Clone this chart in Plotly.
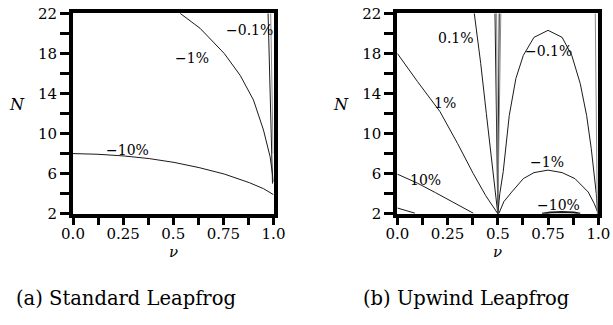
import plotly.graph_objects as go

# ---------------- data ----------------
# Panel (a) Standard Leapfrog : contour lines of phase error
a_m10_nu = [0.0, 0.125, 0.255, 0.38, 0.504, 0.629, 0.754, 0.879, 0.95, 1.0]
a_m10_N = [8.0, 7.93, 7.76, 7.5, 7.12, 6.6, 5.96, 5.1, 4.5, 3.9]

a_m1_nu = [0.534, 0.634, 0.754, 0.834, 0.9, 0.95, 0.983, 1.0]
a_m1_N = [22.0, 20.5, 18.0, 15.8, 13.35, 10.35, 7.7, 5.2]

a_m01a_nu = [0.973, 0.985, 0.995]
a_m01a_N = [22.0, 14.0, 5.0]
a_m01b_nu = [0.986, 0.993, 0.998]
a_m01b_N = [22.0, 15.0, 8.0]

# Panel (b) Upwind Leapfrog
b_10low_nu = [0.0, 0.088]
b_10low_N = [2.57, 2.05]

b_10_nu = [0.0, 0.1, 0.19, 0.28, 0.378]
b_10_N = [5.95, 5.05, 4.1, 3.1, 2.05]

b_1_nu = [0.0, 0.1, 0.212, 0.3, 0.378, 0.44, 0.5]
b_1_N = [18.0, 15.2, 12.2, 9.0, 6.0, 3.8, 2.0]

b_01_nu = [0.383, 0.415, 0.443, 0.47, 0.5]
b_01_N = [22.0, 17.0, 12.0, 7.0, 2.0]

b_mid_top_nu = [0.486, 0.494, 0.507, 0.515]
b_mid_bot_nu = 0.5

b_m01_nu = [0.5, 0.51, 0.527, 0.54, 0.557, 0.59, 0.627, 0.68, 0.75,
            0.82, 0.868, 0.91, 0.942, 0.965, 0.979, 0.99, 0.997]
b_m01_N = [2.0, 4.0, 6.2, 8.5, 11.8, 15.5, 17.8, 19.6, 20.3,
           19.6, 17.8, 15.0, 11.8, 8.5, 6.2, 4.0, 2.0]

b_m1_nu = [0.505, 0.53, 0.569, 0.627, 0.68, 0.75, 0.82, 0.884, 0.95, 0.98, 1.0]
b_m1_N = [2.0, 3.2, 4.16, 5.5, 6.1, 6.35, 6.1, 5.5, 4.16, 3.0, 2.0]

b_m10_nu = [0.72, 0.76, 0.82, 0.88, 0.91]
b_m10_N = [2.0, 2.12, 2.17, 2.12, 2.0]

b_edge_nu = [0.985, 0.995]
b_edge_N = [22.0, 2.0]

# contour labels
a_lbl_text = ["\u22120.1%", "\u22121%", "\u221210%"]
a_lbl_nu = [0.879, 0.594, 0.27]
a_lbl_N = [20.35, 17.55, 8.35]

b_lbl_text = ["0.1%", "\u22120.1%", "1%", "10%", "\u22121%", "\u221210%"]
b_lbl_nu = [0.29, 0.751, 0.237, 0.142, 0.743, 0.80]
b_lbl_N = [19.5, 18.2, 13.0, 5.35, 7.2, 2.85]

# ticks
x_tickvals = [0.0, 0.125, 0.25, 0.375, 0.5, 0.625, 0.75, 0.875, 1.0]
x_ticktext = ["0.0", "", "0.25", "", "0.5", "", "0.75", "", "1.0"]
y_tickvals = [2, 4, 6, 8, 10, 12, 14, 16, 18, 20, 22]
y_ticktext = ["2", "", "6", "", "10", "", "14", "", "18", "", "22"]

captions = ["(a) Standard Leapfrog", "(b) Upwind Leapfrog"]

# ---------------- figure ----------------
FONT = "DejaVu Serif"
W, H = 613, 325
fig = go.Figure()

dark = dict(color="#1a1a1a", width=1)
gray = dict(color="#8a8a8a", width=1)


def add(x, y, axes, line):
    fig.add_trace(go.Scatter(x=x, y=y, mode="lines", line=line,
                             xaxis=axes[0], yaxis=axes[1],
                             hoverinfo="skip", showlegend=False))


A = ("x", "y")
B = ("x2", "y2")
add(a_m10_nu, a_m10_N, A, dark)
add(a_m1_nu, a_m1_N, A, dark)
add(a_m01a_nu, a_m01a_N, A, dark)
add(a_m01b_nu, a_m01b_N, A, gray)

add(b_10low_nu, b_10low_N, B, dark)
add(b_10_nu, b_10_N, B, dark)
add(b_1_nu, b_1_N, B, dark)
add(b_01_nu, b_01_N, B, dark)
for i, v in enumerate(b_mid_top_nu):
    add([v, b_mid_bot_nu], [22.0, 2.0], B, dark if i % 2 == 0 else gray)
add(b_m01_nu, b_m01_N, B, dark)
add(b_m1_nu, b_m1_N, B, dark)
add(b_m10_nu, b_m10_N, B, dict(color="#1a1a1a", width=2))
add(b_edge_nu, b_edge_N, B, gray)

axis_common = dict(
    showgrid=False, zeroline=False, showline=True, automargin=False,
    linecolor="black", linewidth=4, mirror=True,
    ticks="outside", tickwidth=3, tickcolor="black",
    tickfont=dict(family=FONT, size=15, color="black"),
)

xa = dict(axis_common, range=[0, 1], tickmode="array", tickvals=x_tickvals,
          ticktext=x_ticktext, ticklen=7, ticklabelstandoff=-4)
ya = dict(axis_common, range=[2, 22], tickmode="array", tickvals=y_tickvals,
          ticktext=y_ticktext, ticklen=9)

yd = [(H - 213.7) / H, (H - 13.3) / H]
fig.update_layout(
    width=W, height=H,
    margin=dict(l=0, r=0, t=0, b=0, pad=0, autoexpand=False),
    paper_bgcolor="white", plot_bgcolor="white",
    xaxis=dict(xa, domain=[73 / W, 273.5 / W], anchor="y"),
    yaxis=dict(ya, domain=yd, anchor="x"),
    xaxis2=dict(xa, domain=[397.3 / W, 598.3 / W], anchor="y2"),
    yaxis2=dict(ya, domain=yd, anchor="x2"),
)

ann = []
for t, x, y in zip(a_lbl_text, a_lbl_nu, a_lbl_N):
    ann.append(dict(text=t, x=x, y=y, xref="x", yref="y", showarrow=False,
                    xanchor="center", yanchor="middle",
                    font=dict(family=FONT, size=14, color="black")))
for t, x, y in zip(b_lbl_text, b_lbl_nu, b_lbl_N):
    ann.append(dict(text=t, x=x, y=y, xref="x2", yref="y2", showarrow=False,
                    xanchor="center", yanchor="middle",
                    font=dict(family=FONT, size=14, color="black")))


def paper_text(text, px, py, size, xanchor="center"):
    ann.append(dict(text=text, x=px / W, y=1 - py / H, xref="paper",
                    yref="paper", xanchor=xanchor, yanchor="middle",
                    showarrow=False,
                    font=dict(family=FONT, size=size, color="black")))


# axis titles
for px in (173, 497):
    paper_text("<i>\u03bd</i>", px, 252, 15)
for px in (17, 341):
    paper_text("<i>N</i>", px, 104, 16)

# captions
paper_text(captions[0], 126, 298, 19.5)
paper_text(captions[1], 466, 298, 19.5)

fig.update_layout(annotations=ann)
fig.write_html("out.html")
